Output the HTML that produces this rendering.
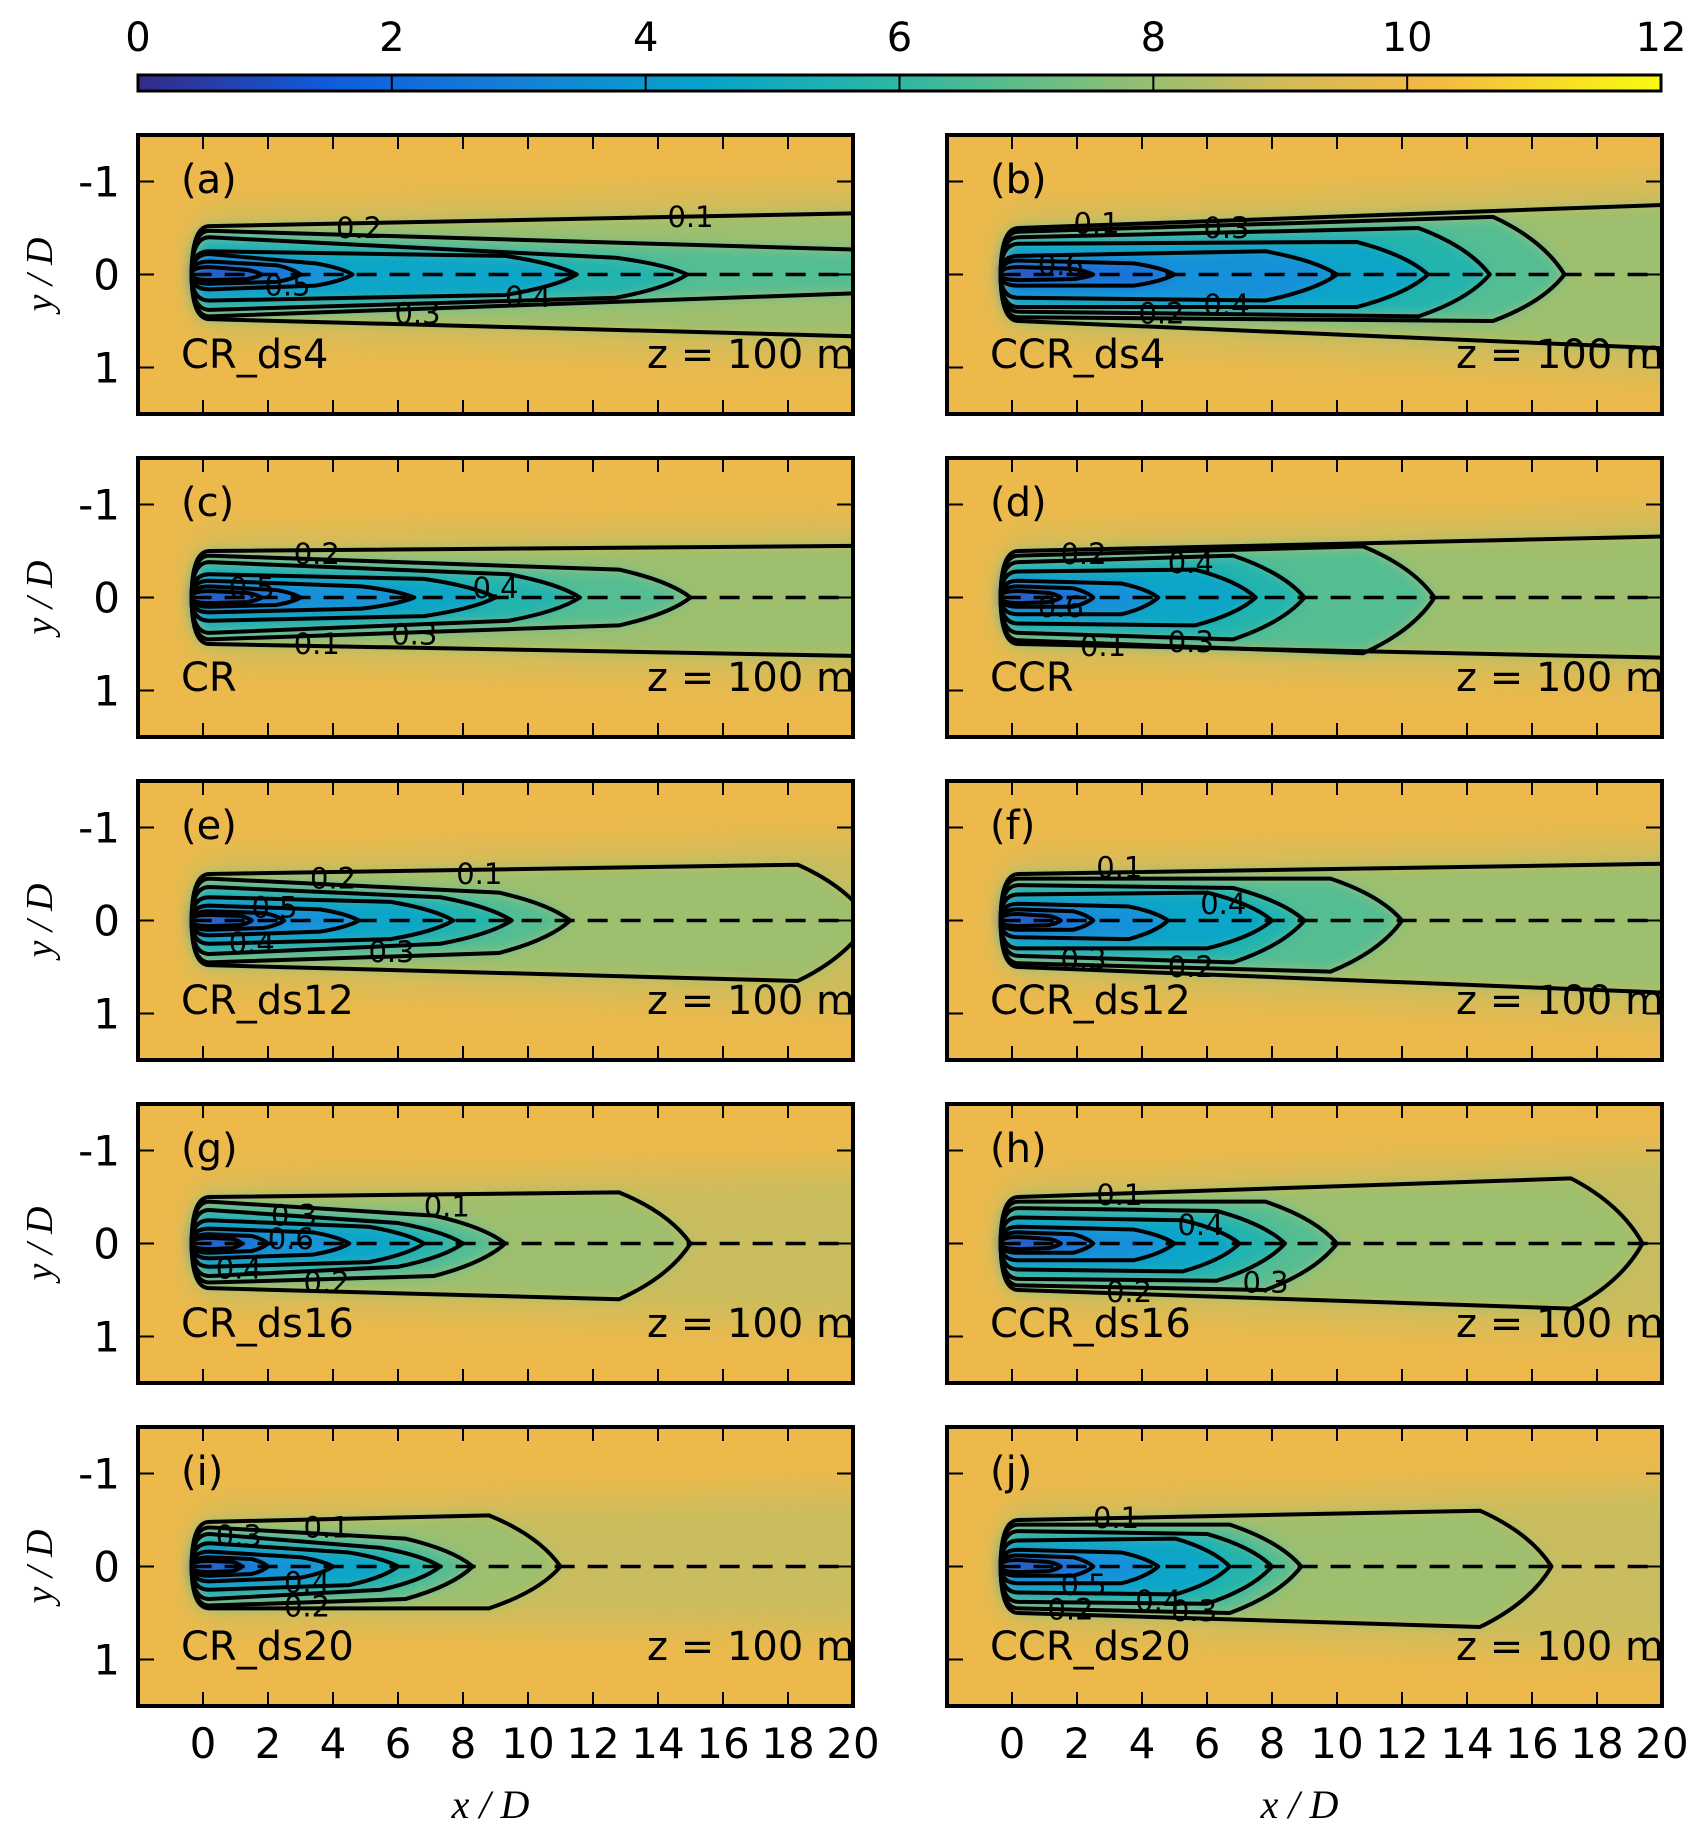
<!DOCTYPE html>
<html><head><meta charset="utf-8">
<style>
html,body{margin:0;padding:0;background:#fff;}
svg{display:block;}
text{font-family:"DejaVu Sans","Liberation Sans",sans-serif;}
</style></head>
<body>
<svg id="fig" width="1701" height="1839" viewBox="0 0 1701 1839" xmlns="http://www.w3.org/2000/svg">
<defs>
<linearGradient id="parula" x1="0" x2="1" y1="0" y2="0">
<stop offset="0" stop-color="#352a87"/><stop offset="0.125" stop-color="#0f5cdd"/>
<stop offset="0.25" stop-color="#1481d6"/><stop offset="0.375" stop-color="#06a4ca"/>
<stop offset="0.5" stop-color="#2eb7a3"/><stop offset="0.625" stop-color="#7dbf7c"/>
<stop offset="0.75" stop-color="#d1bb59"/><stop offset="0.85" stop-color="#f4b944"/>
<stop offset="1" stop-color="#f9fb0e"/>
</linearGradient>
<filter id="blurS" x="-10%" y="-30%" width="120%" height="160%"><feGaussianBlur stdDeviation="6"/></filter>
<filter id="blurL" x="-20%" y="-50%" width="140%" height="200%"><feGaussianBlur stdDeviation="18"/></filter>
</defs>
</svg>
<script>
// ---- data ----
const panelIds = ['a','b','c','d','e','f','g','h','i','j'];
const panelNames = ['CR_ds4','CCR_ds4','CR','CCR','CR_ds12','CCR_ds12','CR_ds16','CCR_ds16','CR_ds20','CCR_ds20'];
const levels = [0.1,0.2,0.3,0.4,0.5,0.6,0.7];
const xTicks = [0,2,4,6,8,10,12,14,16,18,20];
const yTicks = [-1,0,1];
const cbTicks = [0,2,4,6,8,10,12];
// nose (end) x/D of each contour level, per panel
const noseX = [
 [24,24,14.9,11.5,4.6,3,1.8],
 [24,17,14.7,12.8,10,5,2.5],
 [24,15,11.6,9,6.5,3,1.8],
 [24,13,9,7.5,4.5,2.5,1.5],
 [20.5,11.3,9.5,7.7,4.8,2.5,1.5],
 [24,12,9,8,4.8,2.5,1.5],
 [15,9.3,8,6.8,4.5,2,1.2],
 [19.4,10,8.4,7,5,2.5,1.5],
 [11,8.3,7.3,6,4,2,1.2],
 [16.6,8.9,8,6.7,4.5,2.5,1.5]];
// upper edge y/D near rotor and near nose
const upStart = [
 [-0.52,-0.47,-0.4,-0.25,-0.22,-0.14,-0.08],
 [-0.5,-0.46,-0.4,-0.33,-0.2,-0.15,-0.08],
 [-0.5,-0.45,-0.38,-0.25,-0.18,-0.12,-0.07],
 [-0.5,-0.45,-0.38,-0.28,-0.18,-0.12,-0.07],
 [-0.5,-0.45,-0.36,-0.25,-0.16,-0.1,-0.06],
 [-0.5,-0.45,-0.38,-0.28,-0.18,-0.12,-0.07],
 [-0.5,-0.45,-0.36,-0.25,-0.16,-0.1,-0.06],
 [-0.5,-0.45,-0.38,-0.28,-0.18,-0.12,-0.07],
 [-0.48,-0.42,-0.35,-0.25,-0.16,-0.1,-0.06],
 [-0.5,-0.45,-0.38,-0.28,-0.18,-0.12,-0.07]];
const upEnd = [
 [-0.67,-0.25,-0.18,-0.2,-0.12,-0.1,-0.05],
 [-0.77,-0.62,-0.5,-0.35,-0.25,-0.12,-0.06],
 [-0.56,-0.3,-0.25,-0.2,-0.12,-0.08,-0.05],
 [-0.67,-0.55,-0.45,-0.3,-0.15,-0.1,-0.05],
 [-0.6,-0.3,-0.25,-0.2,-0.12,-0.08,-0.05],
 [-0.62,-0.45,-0.35,-0.3,-0.15,-0.1,-0.05],
 [-0.55,-0.3,-0.22,-0.18,-0.12,-0.08,-0.05],
 [-0.7,-0.45,-0.35,-0.25,-0.15,-0.1,-0.05],
 [-0.55,-0.3,-0.2,-0.15,-0.1,-0.08,-0.05],
 [-0.6,-0.45,-0.35,-0.3,-0.15,-0.1,-0.05]];
const dnStart = [
 [0.48,0.45,0.38,0.28,0.16,0.1,0.06],
 [0.5,0.46,0.4,0.35,0.25,0.12,0.06],
 [0.5,0.45,0.38,0.25,0.16,0.1,0.06],
 [0.5,0.46,0.38,0.28,0.18,0.1,0.06],
 [0.48,0.45,0.36,0.25,0.16,0.1,0.06],
 [0.5,0.46,0.38,0.3,0.18,0.1,0.06],
 [0.48,0.42,0.35,0.25,0.16,0.1,0.06],
 [0.5,0.45,0.38,0.28,0.18,0.1,0.06],
 [0.45,0.42,0.35,0.25,0.16,0.1,0.06],
 [0.5,0.45,0.38,0.28,0.18,0.1,0.06]];
const dnEnd = [
 [0.68,0.18,0.25,0.22,0.12,0.08,0.05],
 [0.82,0.5,0.45,0.35,0.28,0.12,0.05],
 [0.64,0.3,0.25,0.2,0.12,0.08,0.05],
 [0.66,0.6,0.45,0.3,0.18,0.1,0.05],
 [0.65,0.35,0.25,0.2,0.12,0.08,0.05],
 [0.8,0.55,0.45,0.3,0.2,0.1,0.05],
 [0.6,0.35,0.25,0.2,0.12,0.08,0.05],
 [0.7,0.5,0.4,0.3,0.18,0.1,0.05],
 [0.45,0.35,0.25,0.2,0.12,0.08,0.05],
 [0.65,0.5,0.4,0.3,0.18,0.1,0.05]];
// contour labels: [text, x/D, y/D]
const labelSets = [
 [['0.2',4.8,-0.5],['0.1',15,-0.62],['0.5',2.6,0.12],['0.4',10,0.24],['0.3',6.6,0.42]],
 [['0.1',2.6,-0.55],['0.3',6.6,-0.5],['0.6',1.5,-0.1],['0.2',4.6,0.42],['0.4',6.6,0.33]],
 [['0.2',3.5,-0.47],['0.4',9,-0.1],['0.5',1.5,-0.1],['0.1',3.5,0.5],['0.3',6.5,0.4]],
 [['0.2',2.2,-0.47],['0.4',5.5,-0.37],['0.6',1.5,0.1],['0.1',2.8,0.52],['0.3',5.5,0.48]],
 [['0.2',4,-0.45],['0.1',8.5,-0.5],['0.5',2.2,-0.14],['0.4',1.5,0.24],['0.3',5.8,0.34]],
 [['0.1',3.3,-0.57],['0.4',6.5,-0.18],['0.3',2.2,0.42],['0.2',5.5,0.5]],
 [['0.3',2.8,-0.3],['0.1',7.5,-0.4],['0.6',2.7,-0.05],['0.4',1.1,0.27],['0.2',3.8,0.42]],
 [['0.1',3.3,-0.52],['0.4',5.8,-0.2],['0.2',3.6,0.52],['0.3',7.8,0.42]],
 [['0.3',1.1,-0.33],['0.1',3.8,-0.42],['0.4',3.2,0.17],['0.2',3.2,0.43]],
 [['0.1',3.2,-0.52],['0.5',2.2,0.2],['0.4',4.5,0.37],['0.3',5.6,0.48],['0.2',1.8,0.46]]];
const fillColors = ['#9dbf6e','#55bd92','#20b4ad','#0ea5c8','#1590d9','#1c6fd8','#2a4fc0'];

// ---- layout ----
const NS='http://www.w3.org/2000/svg';
const svg=document.getElementById('fig');
const colX=[138,947], rowY=[135,458,781,1104,1427], PW=715, PH=279;
const XMIN=-2, XMAX=20, YMIN=-1.5, YMAX=1.5;
function mk(tag,attrs,parent){const e=document.createElementNS(NS,tag);for(const k in attrs)e.setAttribute(k,attrs[k]);(parent||svg).appendChild(e);return e;}

// colorbar
const cbL=138, cbR=1661, cbT=75, cbB=91;
const cbx=v=>cbL+(v-0)/(12-0)*(cbR-cbL);
const cb=mk('g',{});


mk('rect',{x:cbL,y:cbT,width:cbR-cbL,height:cbB-cbT,fill:'url(#parula)',stroke:'#000','stroke-width':3},cb);
cbTicks.forEach(v=>{
  if(v>0&&v<12){const t=mk('line',{x1:cbx(v),x2:cbx(v),y1:cbT,y2:cbB,stroke:'#000','stroke-width':2},cb);
  }
  const l=mk('text',{x:cbx(v),y:51,'text-anchor':'middle','font-size':40},cb);
  
  
  l.textContent=v;
});

function shapePath(sx,sy,nose,u0,u1,d0,d1){
  const taper=Math.min(2.2,nose*0.25);
  const xs=nose-taper, x0=-0.35;
  return `M${sx(x0)},${sy(0)} Q${sx(x0)},${sy(u0)} ${sx(0.2)},${sy(u0)} L${sx(xs)},${sy(u1)} Q${sx(nose-taper*0.3)},${sy(u1*0.6)} ${sx(nose)},${sy(0)} Q${sx(nose-taper*0.3)},${sy(d1*0.6)} ${sx(xs)},${sy(d1)} L${sx(0.2)},${sy(d0)} Q${sx(x0)},${sy(d0)} ${sx(x0)},${sy(0)} Z`;
}

panelIds.forEach((id,p)=>{
  const col=p%2,row=Math.floor(p/2);
  const L=colX[col],T=rowY[row];
  const sx=x=>L+(x-XMIN)/(XMAX-XMIN)*PW;
  const sy=y=>T+(y-YMIN)/(YMAX-YMIN)*PH;
  const g=mk('g',{});
  
  
  const cp=mk('clipPath',{id:'clip'+id},g);
  mk('rect',{x:L,y:T,width:PW,height:PH},cp);
  const inner=mk('g',{'clip-path':`url(#clip${id})`},g);
  const bg=mk('rect',{x:L,y:T,width:PW,height:PH,fill:'#edb94b'},inner);
  
  
  const n=noseX[p], u0=upStart[p], u1=upEnd[p], d0=dnStart[p], d1=dnEnd[p];
  const halo=mk('path',{d:shapePath(sx,sy,Math.max(24,n[0]+6),u0[0]*1.3,u1[0]*1.5,d0[0]*1.3,d1[0]*1.5),fill:'#c9bd5f',filter:'url(#blurL)'},inner);
  
  
  const fills=mk('g',{filter:'url(#blurS)'},inner);
  levels.forEach((lv,i)=>{
    const f=mk('path',{d:shapePath(sx,sy,n[i],u0[i],u1[i],d0[i],d1[i]),fill:fillColors[i]},fills);
    
    
  });
  levels.forEach((lv,i)=>{
    const c=mk('path',{d:shapePath(sx,sy,n[i],u0[i],u1[i],d0[i],d1[i]),fill:'none',stroke:'#000','stroke-width':4,'stroke-linejoin':'round'},inner);
    
    
  });
  labelSets[p].forEach(lb=>{
    const t=mk('text',{x:sx(lb[1]),y:sy(lb[2])+10,'text-anchor':'middle','font-size':29,fill:'#000'},inner);
    
    
    t.textContent=lb[0];
  });
  const cl=mk('line',{x1:sx(-0.35),x2:sx(20),y1:sy(0),y2:sy(0),stroke:'#000','stroke-width':3.5,'stroke-dasharray':'20 13'},inner);
  
  
  xTicks.forEach(v=>{
    mk('line',{x1:sx(v),x2:sx(v),y1:T,y2:T+14,stroke:'#000','stroke-width':2},g);
    mk('line',{x1:sx(v),x2:sx(v),y1:T+PH,y2:T+PH-14,stroke:'#000','stroke-width':2},g);
    if(row===4){const t=mk('text',{x:sx(v),y:T+PH+52,'text-anchor':'middle','font-size':42},g);
      t.textContent=v;}
  });
  yTicks.forEach(v=>{
    mk('line',{x1:L,x2:L+16,y1:sy(v),y2:sy(v),stroke:'#000','stroke-width':2},g);
    mk('line',{x1:L+PW,x2:L+PW-16,y1:sy(v),y2:sy(v),stroke:'#000','stroke-width':2},g);
    if(col===0){const t=mk('text',{x:L-18,y:sy(v)+15,'text-anchor':'end','font-size':42},g);
      t.textContent=v;}
  });
  const fr=mk('rect',{x:L,y:T,width:PW,height:PH,fill:'none',stroke:'#000','stroke-width':4},g);
  
  
  const tl=mk('text',{x:L+43,y:T+58,'font-size':40},g);
  
  
  tl.textContent='('+id+')';
  const nm=mk('text',{x:L+43,y:T+233,'font-size':40},g);
  
  
  nm.textContent=panelNames[p];
  const zt=mk('text',{x:L+PW+2,y:T+233,'text-anchor':'end','font-size':40},g);
  
  
  zt.textContent='z = 100 m';
  if(col===0){
    const yl=mk('text',{x:0,y:0,'text-anchor':'middle','font-size':38,style:'font-family:"Liberation Serif",serif;font-style:italic',transform:`translate(52,${T+PH/2}) rotate(-90)`},g);
    
    
    yl.textContent='y / D';
  }
  if(row===4){
    const xl=mk('text',{x:L+PW/2-5,y:1818,'text-anchor':'middle','font-size':40,style:'font-family:"Liberation Serif",serif;font-style:italic'},g);
    
    
    xl.textContent='x / D';
  }
});
</script>
</body></html>
